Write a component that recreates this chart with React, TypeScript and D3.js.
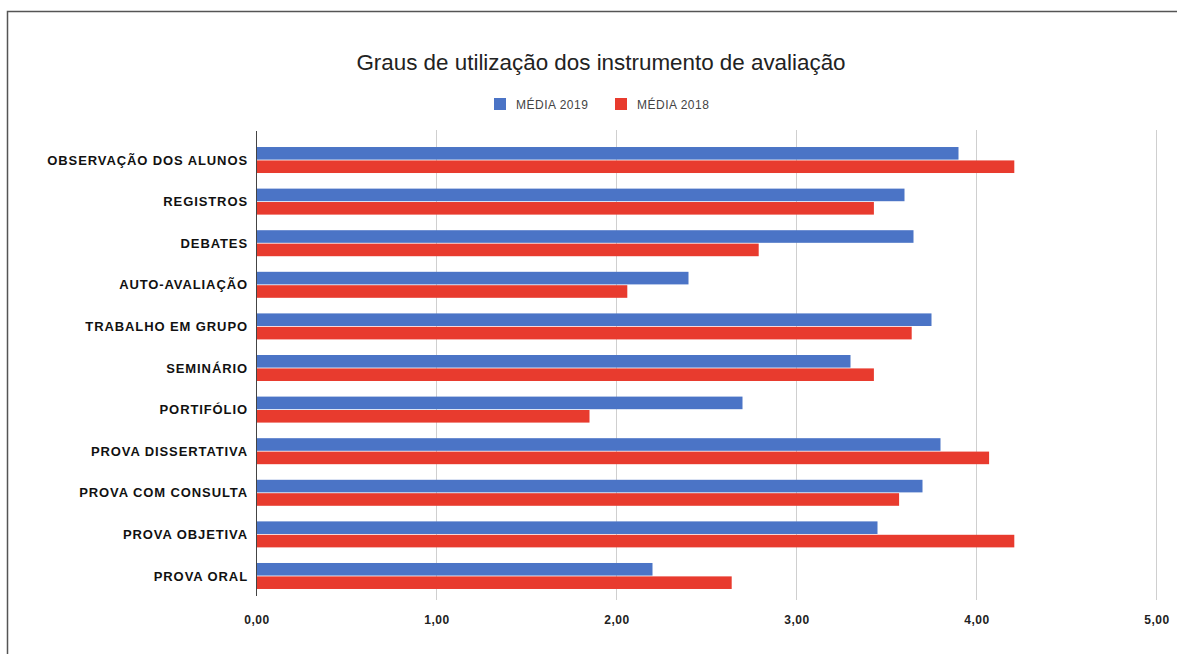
import React, { useRef, useEffect } from 'react';
import * as d3 from 'd3';

// Instrumentos de avaliação (de cima para baixo)
const CATEGORIES = [
  'OBSERVAÇÃO DOS ALUNOS',
  'REGISTROS',
  'DEBATES',
  'AUTO-AVALIAÇÃO',
  'TRABALHO EM GRUPO',
  'SEMINÁRIO',
  'PORTIFÓLIO',
  'PROVA DISSERTATIVA',
  'PROVA COM CONSULTA',
  'PROVA OBJETIVA',
  'PROVA ORAL',
];

const MEDIA_2019 = [3.9, 3.6, 3.65, 2.4, 3.75, 3.3, 2.7, 3.8, 3.7, 3.45, 2.2];
const MEDIA_2018 = [4.21, 3.43, 2.79, 2.06, 3.64, 3.43, 1.85, 4.07, 3.57, 4.21, 2.64];

const SERIES = ['MÉDIA 2019', 'MÉDIA 2018'];
const SERIES_COLORS = ['#4b74c6', '#e83b2e'];
const X_TICKS = [0, 1, 2, 3, 4, 5];

const W = 1177;
const H = 654;
const FONT = 'Liberation Sans, Arial, Helvetica, sans-serif';

const App: React.FC = () => {
  const ref = useRef<SVGSVGElement>(null);

  useEffect(() => {
    if (!ref.current) return;
    const svg = d3.select(ref.current);
    svg.selectAll('*').remove();

    // Moldura
    svg
      .append('rect')
      .attr('x', 7.5)
      .attr('y', 11.5)
      .attr('width', W + 20)
      .attr('height', H + 20)
      .attr('fill', '#fff')
      .attr('stroke', '#555')
      .attr('stroke-width', 1.5);

    // Título
    svg
      .append('text')
      .attr('x', 601)
      .attr('y', 70)
      .attr('text-anchor', 'middle')
      .text('Graus de utilização dos instrumento de avaliação')
      .style('font-size', '22.4px')
      .style('fill', '#222')
      .style('font-family', FONT);

    // Legenda
    const legendX = [494, 615];
    SERIES.forEach((name, i) => {
      svg
        .append('rect')
        .attr('x', legendX[i])
        .attr('y', 98)
        .attr('width', 12)
        .attr('height', 12)
        .attr('fill', SERIES_COLORS[i]);
      svg
        .append('text')
        .attr('x', legendX[i] + 22)
        .attr('y', 108.5)
        .text(name)
        .style('font-size', '12px')
        .style('letter-spacing', '0.5px')
        .style('fill', '#444')
        .style('font-family', FONT);
    });

    // Escalas
    const x = d3.scaleLinear().domain([0, 5]).range([256.5, 1156.5]);
    const y = d3
      .scaleBand<string>()
      .domain(CATEGORIES)
      .range([138.7, 597.3])
      .paddingInner(0.375)
      .paddingOuter(0.2);
    const ySub = d3.scaleBand<string>().domain(SERIES).range([0, y.bandwidth()]).paddingInner(0.06);

    // Grade
    svg
      .append('g')
      .selectAll('line')
      .data(X_TICKS.slice(1))
      .enter()
      .append('line')
      .attr('x1', (d) => x(d))
      .attr('x2', (d) => x(d))
      .attr('y1', 130)
      .attr('y2', 600)
      .attr('stroke', '#cfcfcf')
      .attr('stroke-width', 1);

    // Barras
    const data = CATEGORIES.map((c, i) => ({ c, values: [MEDIA_2019[i], MEDIA_2018[i]] }));
    const rows = svg
      .append('g')
      .selectAll('g')
      .data(data)
      .enter()
      .append('g')
      .attr('transform', (d) => `translate(0,${y(d.c)})`);
    rows
      .selectAll('rect')
      .data((d) => d.values.map((v, i) => ({ v, s: SERIES[i], i })))
      .enter()
      .append('rect')
      .attr('x', x(0))
      .attr('y', (d) => ySub(d.s)!)
      .attr('width', (d) => x(d.v) - x(0))
      .attr('height', ySub.bandwidth())
      .attr('fill', (d) => SERIES_COLORS[d.i]);

    // Rótulos das categorias
    svg
      .append('g')
      .selectAll('text')
      .data(CATEGORIES)
      .enter()
      .append('text')
      .attr('x', 248)
      .attr('y', (d) => y(d)! + y.bandwidth() / 2)
      .attr('dy', '0.35em')
      .attr('text-anchor', 'end')
      .text((d) => d)
      .style('font-size', '13px')
      .style('font-weight', 'bold')
      .style('letter-spacing', '0.9px')
      .style('fill', '#111')
      .style('font-family', FONT);

    // Eixo Y (linha base)
    svg
      .append('line')
      .attr('x1', x(0))
      .attr('x2', x(0))
      .attr('y1', 131)
      .attr('y2', 596)
      .attr('stroke', '#444')
      .attr('stroke-width', 1);

    // Eixo X
    const xAxis = svg
      .append('g')
      .attr('transform', 'translate(0,612)')
      .call(
        d3
          .axisBottom(x)
          .tickValues(X_TICKS)
          .tickSize(0)
          .tickFormat((d) => (d as number).toFixed(2).replace('.', ','))
      );
    xAxis.select('.domain').remove();
    xAxis
      .selectAll('text')
      .style('font-size', '12px')
      .style('font-weight', 'bold')
      .style('letter-spacing', '0.6px')
      .style('fill', '#222')
      .style('font-family', FONT);
  }, []);

  return (
    <svg
      ref={ref}
      width={W}
      height={H}
      style={{ position: 'absolute', left: 0, top: 0, background: '#fff' }}
    />
  );
};

export default App;
